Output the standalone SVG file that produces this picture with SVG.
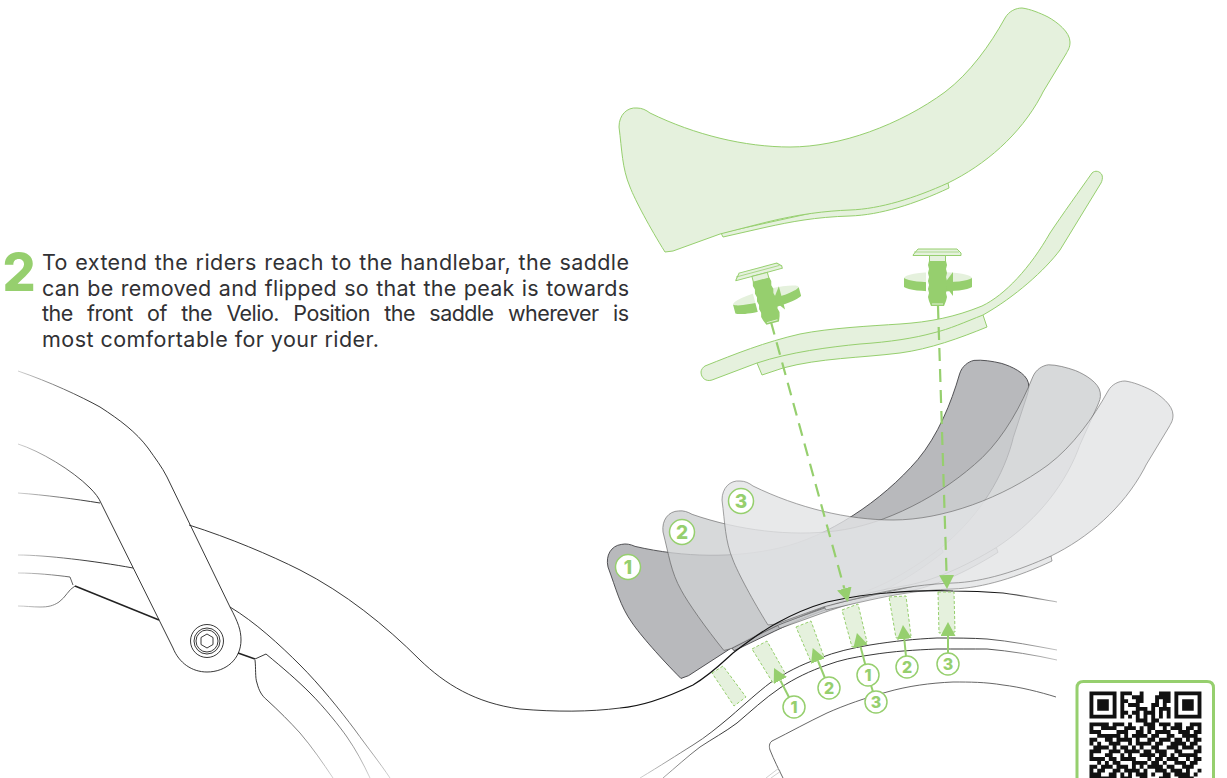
<svg xmlns="http://www.w3.org/2000/svg" xmlns:xlink="http://www.w3.org/1999/xlink" width="1227" height="778" viewBox="0 0 1227 778">
<style>
.body{font-family:Inter,"Liberation Sans",sans-serif;font-size:21.500px;fill:#313134}
.num{font-family:Inter,"Liberation Sans",sans-serif;font-weight:800;fill:#96cf6e;text-anchor:middle}
.ln{fill:none;stroke:#222;stroke-width:.9}
.thick{stroke-width:1.5}
.pale{fill:#e5f1dd;stroke:#96cf6e;stroke-width:1}
.strip{fill:#e5f1dd;stroke:#96cf6e;stroke-width:1;stroke-dasharray:3 2}
.dash{fill:none;stroke:#96cf6e;stroke-width:2.2;stroke-dasharray:13 8;marker-end:url(#ah)}
.ar{fill:none;stroke:#96cf6e;stroke-width:2;marker-end:url(#ah)}
.badge{fill:#fff;stroke:#96cf6e;stroke-width:1.5}
.s1{fill:#b8b9bc;stroke:#3c3c40;stroke-width:.8}
.s2{fill:#ced0d2;stroke:#555;stroke-width:.7;opacity:.8}
.s3{fill:#e3e4e6;stroke:#5c5c5c;stroke-width:.7;opacity:.8}
</style>
<defs>
<marker id="ah" viewBox="0 0 14 15" refX="0" refY="7.5" markerWidth="14" markerHeight="15" markerUnits="userSpaceOnUse" orient="auto"><path d="M0 0L14 7.5L0 15z" fill="#96cf6e"/></marker>
<linearGradient id="fadeL" gradientUnits="userSpaceOnUse" x1="18" y1="0" x2="90" y2="0"><stop offset="0" stop-color="#ccc"/><stop offset="1" stop-color="#222"/></linearGradient>
<linearGradient id="fadeD" gradientUnits="userSpaceOnUse" x1="0" y1="690" x2="0" y2="778"><stop offset="0" stop-color="#222"/><stop offset="1" stop-color="#ccc"/></linearGradient>
<linearGradient id="fadeR" gradientUnits="userSpaceOnUse" x1="640" y1="0" x2="1057" y2="0"><stop offset="0" stop-color="#ccc"/><stop offset=".2" stop-color="#222"/><stop offset=".8" stop-color="#222"/><stop offset="1" stop-color="#bbb"/></linearGradient>
<linearGradient id="fadeT" gradientUnits="userSpaceOnUse" x1="620" y1="0" x2="1057" y2="0"><stop offset="0" stop-color="#111"/><stop offset=".85" stop-color="#111"/><stop offset="1" stop-color="#bbb"/></linearGradient>
<g id="saddle">
<path d="M948 183L949 188C915 204 880 215 850 216C815 217 790 222 767 227L723 237L721 233Z"/>
<path d="M619 127C619 115 627 107 637 108C642 108 646 110 650 113C695 135 745 147 790 147C840 147 900 125 945 92C970 73 990 45 1005 18C1009 11 1016 8 1022 8C1030 9 1040 13 1048 17C1057 22 1070 32 1070 42C1070 48 1068 50 1066 54L1043 92L1041 96C1020 135 985 165 948 183C915 198 880 209 850 210C825 211 800 214 767 222L720 234L673 251L665 252C650 228 635 200 630 187C622 168 622 150 619 127Z"/>
</g>
<g id="bolt">
<ellipse cx="938" cy="278" rx="34" ry="6" fill="#e5f1dd"/>
<path d="M904 278C912 284 964 284 972 278L972 287C964 293 912 293 904 287Z" fill="#96cf6e"/>
<path d="M926 270H931V295H926Z" fill="#fff"/>
<path d="M953 272L944 284L953 296Z" fill="#96cf6e"/>
<path d="M913 255L918 249H957L961 253V255.500H913Z" class="pale"/>
<path d="M914 252H959" fill="none" stroke="#96cf6e" stroke-width=".7"/>
<path d="M929.500 255.500H945.500V262H929.500Z" class="pale"/>
<path d="M929 261H946L947 265L946 269L947 273L946 277L947 281L946 285L947 289L946 293L947 297L946 301L944 306H931L929 301L928 297L929 293L928 289L929 285L928 281L929 277L928 273L929 269L928 265Z" fill="#96cf6e"/>
<path d="M932 304H943" stroke="#e5f1dd" stroke-width="1"/>
</g>
</defs>
<rect width="1227" height="778" fill="#fff"/>

<g id="frame">
<path class="ln" style="stroke:url(#fadeL)" d="M18 371C50 382 80 396 100 407C120 420 136 432 148 448C155 458 162 467 167 477"/>
<path class="ln" style="stroke:url(#fadeL)" d="M18 444C40 451 72 470 90 488C95 493 99 498 101 503"/>
<path class="ln" style="stroke:url(#fadeL)" d="M18 493C45 495 75 499 100 503"/>
<path class="ln" style="stroke:url(#fadeL)" d="M18 555C45 555 95 561 133 568"/>
<path class="ln" style="stroke:url(#fadeL)" d="M18 573C35 573 55 575 70 577L73 585"/>
<path class="ln thick" d="M75 586L159 620"/>
<path class="ln" style="stroke:url(#fadeL)" d="M75 586C68 590 66 597 59 602C53 606 48 607 40 607C32 607 25 606 18 606"/>
<path class="ln" d="M167 477L230 607C238 622 241 630 241 640C241 659 226 672 207 672C192 672 179 663 173 648L101 503"/>
<g id="bolt-head" class="ln"><circle cx="207" cy="641" r="16.500"/><circle cx="207" cy="641" r="13"/><circle cx="207" cy="641" r="11"/><path d="M207 634L213 637.500V644.500L207 648L201 644.500V637.500Z"/></g>
<path class="ln" d="M189 525C230 538 270 555 300 570C345 593 385 625 420 660C445 684 475 703 520 709C555 712 590 712 620 708"/>
<path class="ln" style="stroke:url(#fadeD)" d="M230 607C255 622 280 645 300 665C320 685 340 710 355 730C368 748 380 763 390 778"/>
<path class="ln thick" d="M238 653L255 659"/>
<path class="ln" style="stroke:url(#fadeD)" d="M255 659L266 654C283 668 297 680 310 693C325 708 340 727 347 737C356 750 363 763 370 778"/>
<path class="ln" style="stroke:url(#fadeD)" d="M255 660C256 668 255 678 257 683C259 691 262 696 267 700C279 711 290 722 300 733C312 747 323 763 333 778"/>
</g>

<g id="saddle-1"><use href="#saddle" xlink:href="#saddle" class="s1" transform="translate(608 567) rotate(-13) translate(-619 -127)"/></g>
<g id="saddle-2"><use href="#saddle" xlink:href="#saddle" class="s2" transform="translate(663 532) rotate(-7) translate(-619 -127)"/></g>
<g id="saddle-3"><use href="#saddle" xlink:href="#saddle" class="s3" transform="translate(103 373)"/></g>

<g id="rim">
<path class="ln" style="stroke:url(#fadeT);stroke-width:1.2" d="M620 708C645 706 670 696 693 685C710 675 722 663 733 653C750 640 762 631 777 623C795 613 810 607 827 602C850 597 870 594 887 593C910 591 935 590 953 591C975 591 990 592 1003 593C1020 595 1040 599 1057 602"/>
<path class="ln" style="stroke:url(#fadeR)" d="M640 778C660 766 677 755 693 745C706 737 718 727 730 717C745 704 758 692 770 683C785 673 800 665 820 658C835 652 852 648 870 645C895 641 915 639 937 638C955 638 972 638 987 639C1010 641 1035 646 1057 650"/>
<path class="ln" style="stroke:url(#fadeR)" d="M663 778C676 767 688 756 700 747C712 739 725 732 737 723C750 712 765 698 780 688C795 678 810 671 827 665C840 660 855 657 870 655C895 651 915 650 937 649C955 649 972 649 987 649C1010 651 1035 655 1057 660"/>
<path class="ln" style="stroke:#555" d="M1056 697C1040 692 1020 687 1003 685C985 682 970 682 953 682C930 683 908 686 887 692C865 698 845 705 827 713C808 722 790 732 772 741C769 743 769 747 770 750C774 760 779 770 783 778"/>
<path class="ln" style="stroke:#bbb;stroke-width:.7" d="M766 778L779 768M771 778L781 771"/>
</g>

<g id="saddle-top"><use href="#saddle" xlink:href="#saddle" class="pale"/></g>
<g id="plate">
<path class="pale" d="M1092 173C1095 170 1100 171 1102 175C1103 178 1102 181 1101 183L1060 250C1045 270 1015 297 983 315L987 327C960 338 930 349 900 353C860 358 820 358 783 368L762 375L757 363L712 380C706 382 701 378 701 372C701 370 703 367 705 366C735 354 765 342 800 334C830 328 870 326 900 324C930 322 955 317 982 306C1005 295 1030 268 1050 233C1062 215 1080 190 1092 173Z"/>
<path fill="none" stroke="#96cf6e" d="M757 363C790 352 830 347 860 344C890 342 915 338 933 333C950 329 965 322 983 315"/>
</g>
<g id="bolt-right"><use href="#bolt" xlink:href="#bolt"/></g>
<g id="bolt-left"><use href="#bolt" xlink:href="#bolt" transform="translate(759 274) rotate(-15) translate(-937 -255)"/></g>

<g id="strips">
<path class="strip" d="M712 673L723 666L746 697L734 706Z"/>
<path class="strip" d="M752 649L767 641L785 673L773 683Z"/>
<path class="strip" d="M796 627L811 621L824 657L811 662Z"/>
<path class="strip" d="M842 610L858 604L867 642L852 647Z"/>
<path class="strip" d="M889 597L906 596L911 636L896 638Z"/>
<path class="strip" d="M938 592L954 592L955 632L939 633Z"/>
</g>

<g id="connectors">
<path class="dash" d="M771 322L844.300 588.500"/>
<path class="dash" d="M938 306L946.600 575"/>
<path class="ar" d="M794 707L780.400 680.500"/>
<path class="ar" d="M829 688L818 661"/>
<path class="ar" d="M868 675L860.500 646.500"/>
<path class="ar" d="M907 667L904.300 639"/>
<path class="ar" d="M948 664L948 636"/>
<path d="M876 702L868 675" fill="none" stroke="#96cf6e" stroke-width="2"/>
</g>

<g id="badges">
<g id="badge-s1"><circle class="badge" cx="628" cy="567" r="12.500"/><text class="num" x="628" y="574" font-size="19">1</text></g>
<g id="badge-s2"><circle class="badge" cx="682" cy="532" r="12.500"/><text class="num" x="682" y="539" font-size="19">2</text></g>
<g id="badge-s3"><circle class="badge" cx="741" cy="501" r="12.500"/><text class="num" x="741" y="508" font-size="19">3</text></g>
<g id="badge-a"><circle class="badge" cx="876" cy="702" r="11"/><text class="num" x="876" y="708" font-size="16">3</text></g>
<g id="badge-b"><circle class="badge" cx="794" cy="707" r="11"/><text class="num" x="794" y="713" font-size="16">1</text></g>
<g id="badge-c"><circle class="badge" cx="829" cy="688" r="11"/><text class="num" x="829" y="694" font-size="16">2</text></g>
<g id="badge-d"><circle class="badge" cx="868" cy="675" r="11"/><text class="num" x="868" y="681" font-size="16">1</text></g>
<g id="badge-e"><circle class="badge" cx="907" cy="667" r="11"/><text class="num" x="907" y="673" font-size="16">2</text></g>
<g id="badge-f"><circle class="badge" cx="948" cy="664" r="11"/><text class="num" x="948" y="670" font-size="16">3</text></g>
</g>

<g id="step-text">
<text class="num" x="19" y="291" font-size="52">2</text>
<text class="body" x="42" y="270" textLength="587" word-spacing="1">To extend the riders reach to the handlebar, the saddle</text>
<text class="body" x="42" y="295.500" textLength="587" word-spacing="1">can be removed and flipped so that the peak is towards</text>
<text class="body" x="42" y="321" textLength="587" word-spacing="9">the front of the Velio. Position the saddle wherever is</text>
<text class="body" x="42" y="347" textLength="337">most comfortable for your rider.</text>
</g>

<g id="qr">
<path d="M1077 778V688Q1077 681.500 1083.500 681.500H1207Q1213.500 681.500 1213.500 688V778" fill="#fff" stroke="#96cf6e" stroke-width="3"/>
<g transform="translate(1089.500 691.500) scale(3.86)">
<path fill-rule="evenodd" fill="#111" d="M0 0H7V7H0ZM1 1V6H6V1ZM2 2H5V5H2ZM22 0H29V7H22ZM23 1V6H28V1ZM24 2H27V5H24Z"/>
<path fill="none" stroke="#111" stroke-width="1" d="M8 .5h3M13 .5h1M18 .5h3M8 1.500h1M11 1.500h3M17 1.500h4M8 2.500h2M12 2.500h2M17 2.500h1M19 2.500h2M8 3.500h1M10 3.500h3M16 3.500h2M19 3.500h1M8 4.500h1M12 4.500h3M16 4.500h1M18 4.500h3M8 5.500h2M11 5.500h2M14 5.500h3M18 5.500h1M20 5.500h1M8 6.500h1M10 6.500h1M12 6.500h1M14 6.500h1M16 6.500h1M18 6.500h1M20 6.500h1M12 7.500h3M16 7.500h2M0 8.500h5M6 8.500h3M10 8.500h1M14 8.500h3M18 8.500h3M22 8.500h2M26 8.500h3M0 9.500h1M3 9.500h4M9 9.500h3M13 9.500h1M15 9.500h2M19 9.500h1M21 9.500h3M25 9.500h2M28 9.500h1M0 10.500h3M7 10.500h3M12 10.500h2M15 10.500h1M17 10.500h4M23 10.500h3M27 10.500h2M2 11.500h6M9 11.500h1M11 11.500h4M16 11.500h2M20 11.500h2M24 11.500h4M0 12.500h2M4 12.500h2M7 12.500h4M12 12.500h1M15 12.500h2M18 12.500h3M22 12.500h2M25 12.500h1M27 12.500h2M0 13.500h1M2 13.500h1M5 13.500h3M10 13.500h1M12 13.500h4M17 13.500h2M21 13.500h4M26 13.500h2M1 14.500h4M6 14.500h1M8 14.500h2M11 14.500h1M13 14.500h1M16 14.500h2M20 14.500h3M24 14.500h3M28 14.500h1M0 15.500h3M5 15.500h3M9 15.500h4M14 15.500h2M17 15.500h3M22 15.500h2M27 15.500h2M0 16.500h1M4 16.500h2M8 16.500h1M10 16.500h1M13 16.500h4M18 16.500h2M21 16.500h1M23 16.500h5M0 17.500h4M5 17.500h2M8 17.500h4M15 17.500h1M17 17.500h2M20 17.500h3M25 17.500h1M27 17.500h2M2 18.500h1M4 18.500h1M6 18.500h2M11 18.500h4M16 18.500h2M19 18.500h1M22 18.500h3M26 18.500h2M0 19.500h2M3 19.500h3M7 19.500h3M11 19.500h1M13 19.500h1M15 19.500h4M20 19.500h2M24 19.500h3M0 20.500h1M2 20.500h2M6 20.500h2M9 20.500h4M14 20.500h1M17 20.500h3M21 20.500h3M25 20.500h1M28 20.500h1M0 21.500h3M5 21.500h2M8 21.500h1M10 21.500h1M12 21.500h3M16 21.500h1M19 21.500h2M22 21.500h4M27 21.500h1M0 22.500h7M8 22.500h3M13 22.500h2M18 22.500h3M23 22.500h4"/>
</g>
</g>
</svg>
